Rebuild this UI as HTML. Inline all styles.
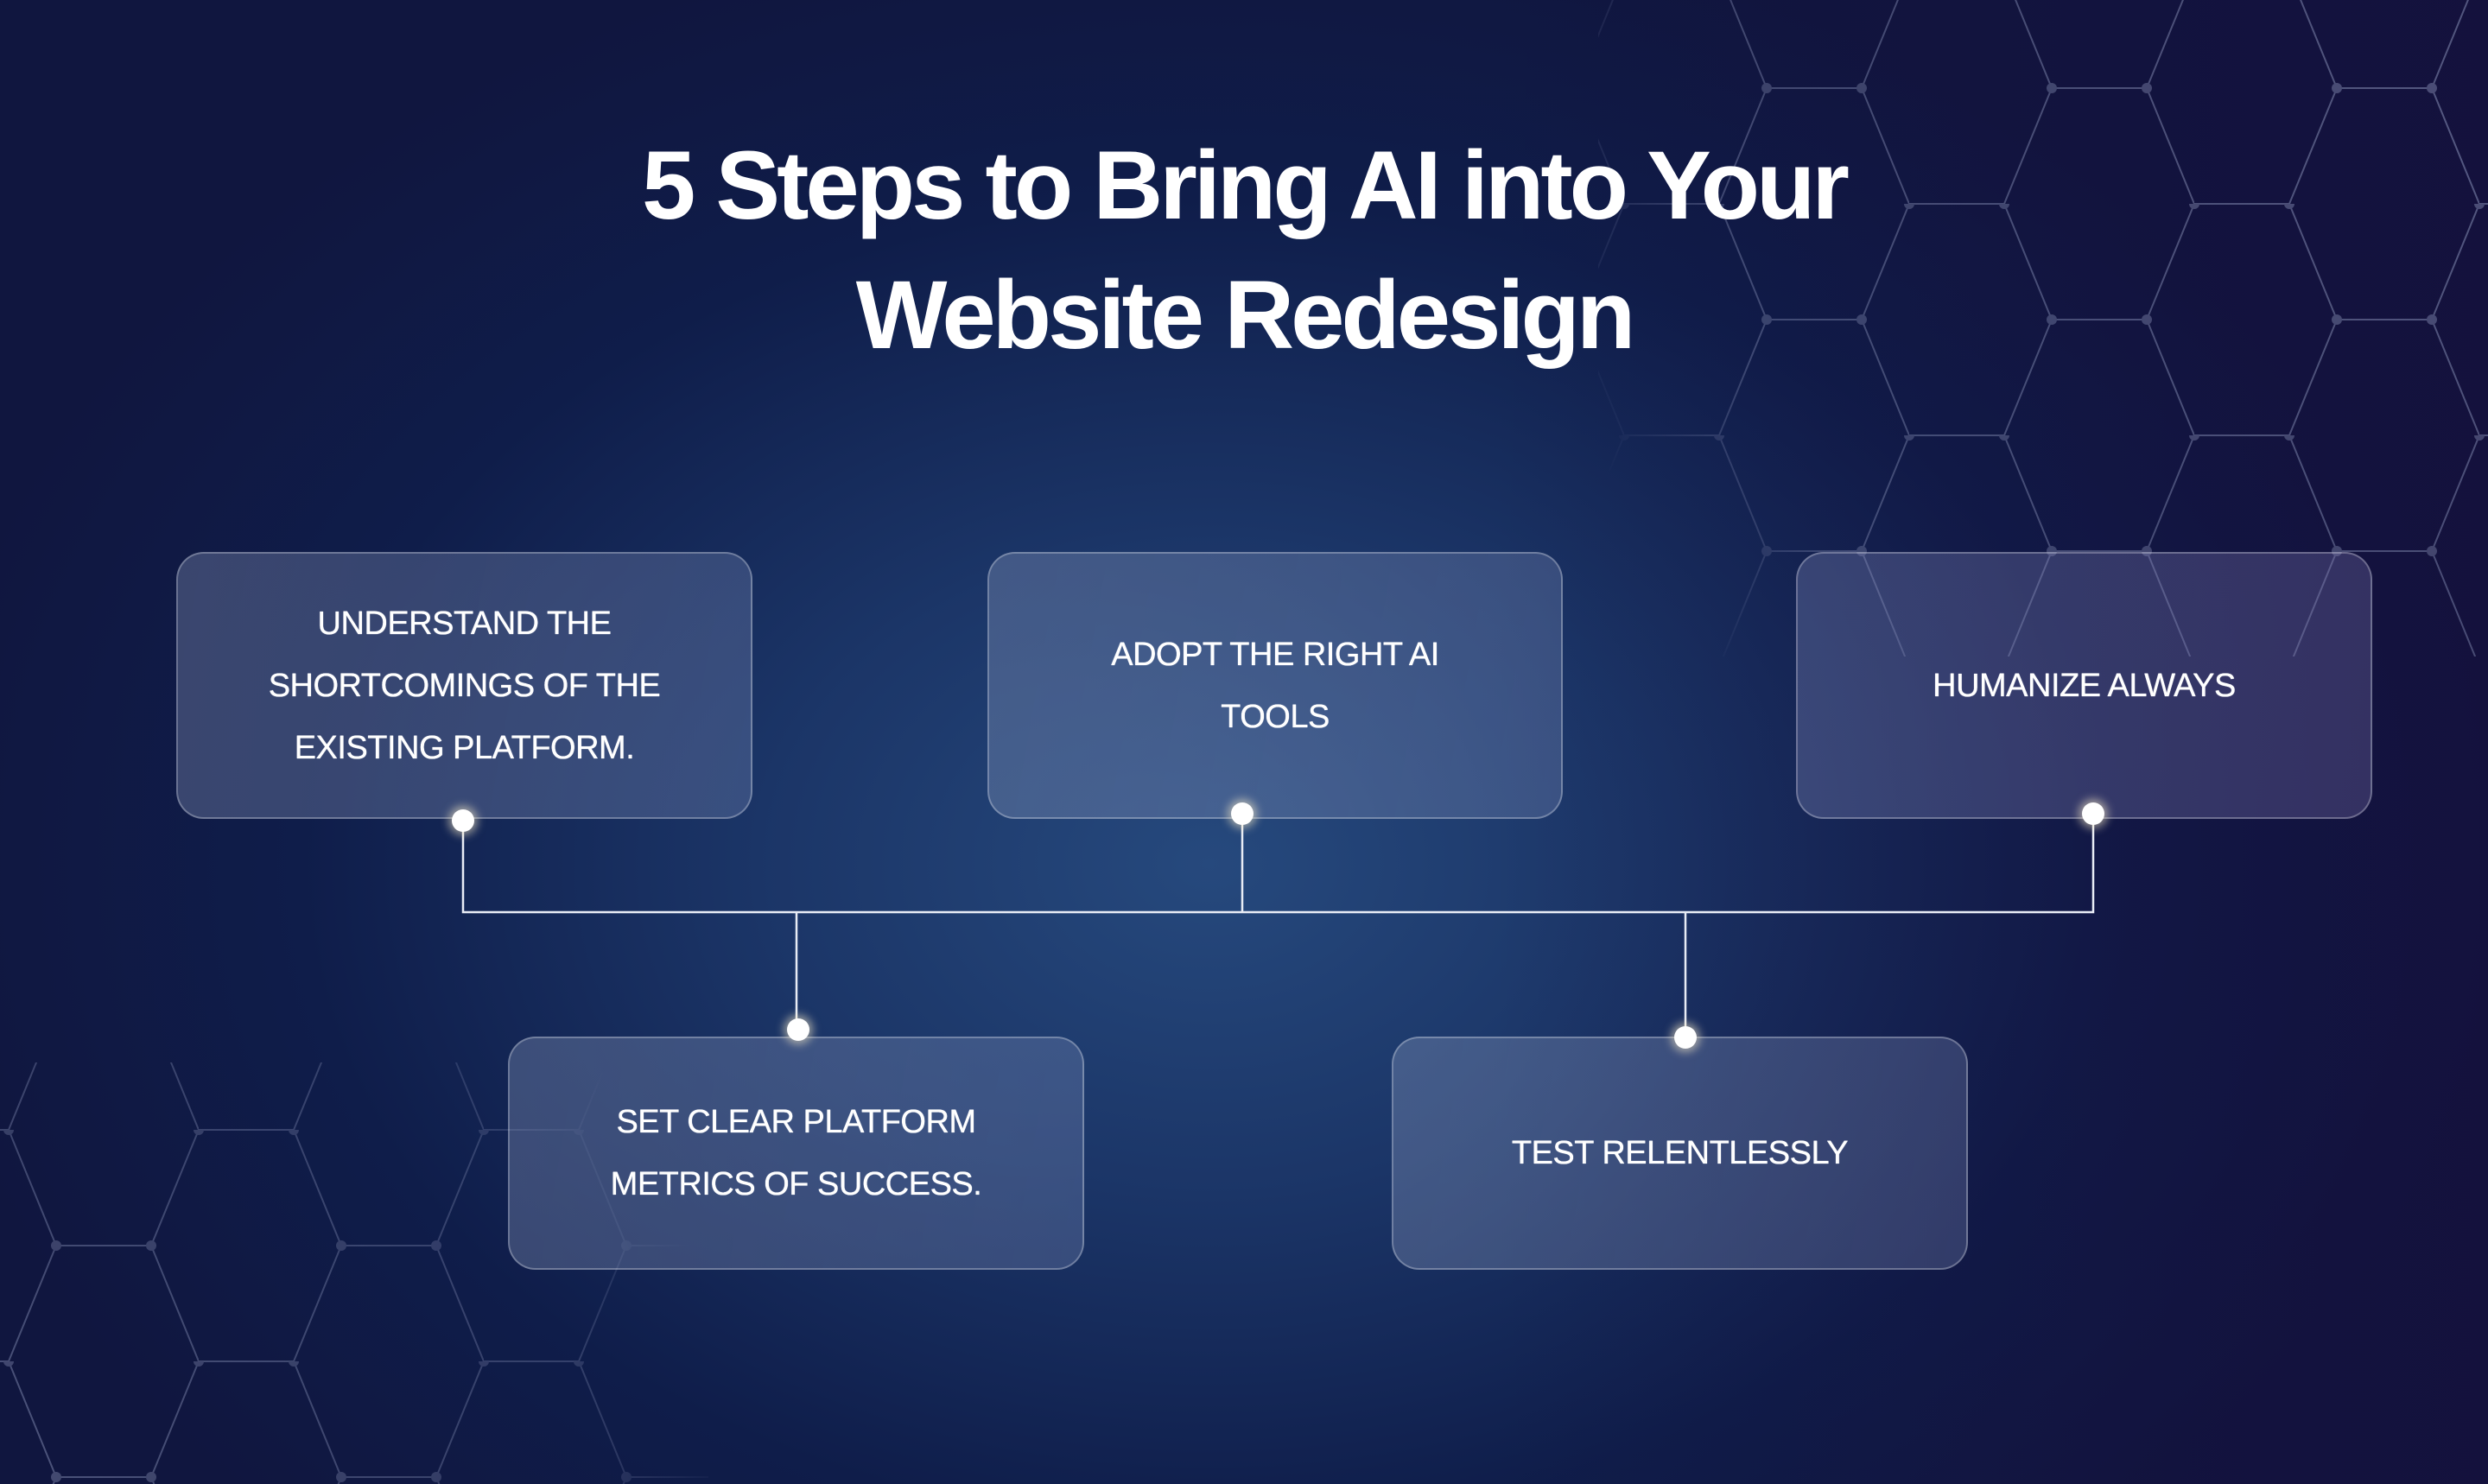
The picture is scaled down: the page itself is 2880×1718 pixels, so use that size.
<!DOCTYPE html>
<html><head><meta charset="utf-8"><style>
html,body{margin:0;padding:0}
body{width:2880px;height:1718px;overflow:hidden;position:relative;font-family:"Liberation Sans",sans-serif;
background:radial-gradient(ellipse 1500px 1100px at 1400px 1000px,#26497d 0%,#1b3567 35%,#0f1d4a 70%,#10163f 100%);}
.bgr{position:absolute;inset:0;background:linear-gradient(90deg,rgba(0,0,0,0) 60%,rgba(22,14,60,0.6) 100%)}
svg{position:absolute;left:0;top:0}
.title{position:absolute;left:0;width:2880px;text-align:center;color:#fff;font-weight:bold;font-size:112px;letter-spacing:-4px;line-height:150px;top:140px}
.box{position:absolute;box-sizing:border-box;border:2px solid rgba(255,255,255,0.28);border-radius:32px;
background:linear-gradient(100deg,rgba(150,165,200,0.32),rgba(140,155,200,0.27));display:flex;align-items:center;justify-content:center;text-align:center;color:#fff;font-size:38px;line-height:72px;font-weight:500;letter-spacing:-0.5px;text-shadow:0 0 0.6px #fff,0 0 0.6px #fff}
.dot{position:absolute;width:26px;height:26px;border-radius:50%;background:#fff;box-shadow:0 0 10px 4px rgba(255,240,200,0.55);margin:-13px 0 0 -13px}
</style></head><body>
<div class="bgr"></div>
<svg width="2880" height="1718">
<defs>
<pattern id="hx" width="330" height="268" patternUnits="userSpaceOnUse" x="1550" y="-32">
<g stroke="#8a93b8" stroke-width="2" fill="none">
<path d="M0 0H110L165 134H275L330 0M165 134L110 268M275 134L330 268M0 268H110"/>
</g>
<g fill="#7a81a6"><circle cx="0" cy="0" r="6"/><circle cx="110" cy="0" r="6"/><circle cx="165" cy="134" r="6"/><circle cx="275" cy="134" r="6"/><circle cx="330" cy="0" r="6"/></g>
</pattern>
<radialGradient id="m1" cx="2880" cy="150" r="1100" gradientUnits="userSpaceOnUse"><stop offset="0" stop-color="#fff" stop-opacity="0.55"/><stop offset="0.8" stop-color="#fff" stop-opacity="0.4"/><stop offset="1" stop-color="#fff" stop-opacity="0"/></radialGradient>
<radialGradient id="m2" cx="0" cy="1718" r="850" gradientUnits="userSpaceOnUse"><stop offset="0" stop-color="#fff" stop-opacity="0.5"/><stop offset="0.8" stop-color="#fff" stop-opacity="0.3"/><stop offset="1" stop-color="#fff" stop-opacity="0"/></radialGradient>
<mask id="mk1"><rect width="2880" height="1718" fill="url(#m1)"/></mask>
<mask id="mk2"><rect width="2880" height="1718" fill="url(#m2)"/></mask>
</defs>
<rect x="1850" y="0" width="1030" height="760" fill="url(#hx)" mask="url(#mk1)"/>
<rect x="0" y="1230" width="820" height="488" fill="url(#hx)" mask="url(#mk2)"/>
<g stroke="#e8ecf5" stroke-width="2.5" fill="none">
<path d="M536 950V1056H2423V942M1438 942V1056M922 1056V1192M1951 1056V1201"/>
</g>
</svg>
<div class="title">5 Steps to Bring AI into Your<br>Website Redesign</div>
<div class="box" style="left:204px;top:639px;width:667px;height:309px">UNDERSTAND THE<br>SHORTCOMINGS OF THE<br>EXISTING PLATFORM.</div>
<div class="box" style="left:1143px;top:639px;width:666px;height:309px">ADOPT THE RIGHT AI<br>TOOLS</div>
<div class="box" style="left:2079px;top:639px;width:667px;height:309px;background:linear-gradient(100deg,rgba(140,150,200,0.3),rgba(130,120,180,0.3))">HUMANIZE ALWAYS</div>
<div class="box" style="left:588px;top:1200px;width:667px;height:270px">SET CLEAR PLATFORM<br>METRICS OF SUCCESS.</div>
<div class="box" style="left:1611px;top:1200px;width:667px;height:270px">TEST RELENTLESSLY</div>
<div class="dot" style="left:536px;top:950px"></div>
<div class="dot" style="left:1438px;top:942px"></div>
<div class="dot" style="left:2423px;top:942px"></div>
<div class="dot" style="left:924px;top:1192px"></div>
<div class="dot" style="left:1951px;top:1201px"></div>
</body></html>
